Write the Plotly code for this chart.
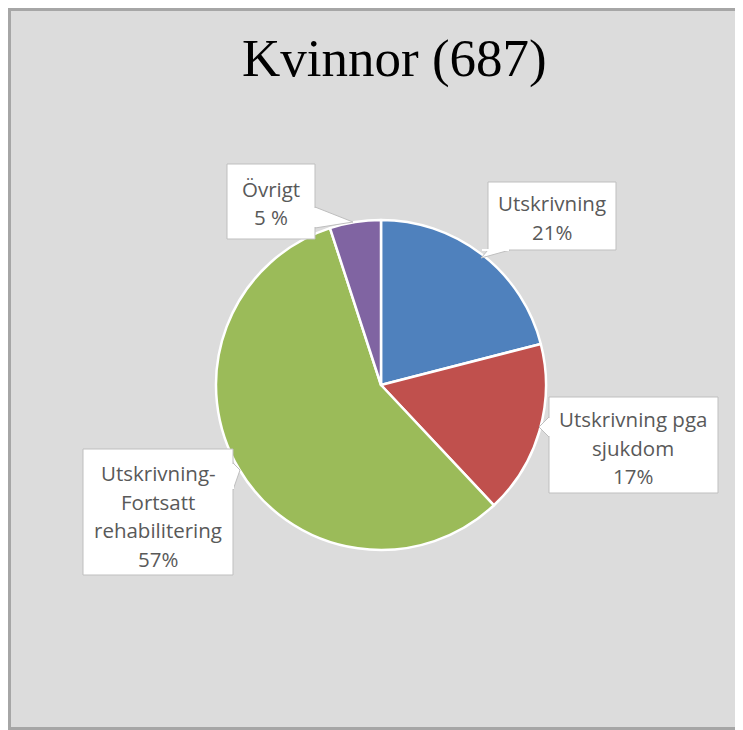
import plotly.graph_objects as go

# data
categories = ["Utskrivning", "Utskrivning pga sjukdom",
              "Utskrivning-Fortsatt rehabilitering", "Övrigt"]
values = [21, 17, 57, 5]
pct_labels = ["21%", "17%", "57%", "5 %"]
label_lines = [["Utskrivning"], ["Utskrivning pga", "sjukdom"],
               ["Utskrivning-", "Fortsatt", "rehabilitering"], ["Övrigt"]]
colors = ["#4f81bd", "#c0504d", "#9bbb59", "#8064a2"]
title_text = "Kvinnor (687)"

# the page puts the figure 8px in from the top-left corner
OFF = 8
W, H = 743, 730 - OFF


def px(x):
    return (x - OFF) / W


def py(y):
    return 1 - (y - OFF) / H


# pie placement (page pixels)
cx, cy, r = 381, 385, 165

fig = go.Figure(go.Pie(
    labels=categories, values=values, sort=False,
    direction="clockwise", rotation=0,
    marker=dict(colors=colors, line=dict(color="white", width=2.5)),
    textinfo="none", hoverinfo="label+percent",
    domain=dict(x=[px(cx - r), px(cx + r)], y=[py(cy + r), py(cy - r)]),
    showlegend=False,
))

shapes = [dict(type="rect", xref="paper", yref="paper",
               x0=px(OFF + 1), x1=px(800), y0=py(OFF + 1), y1=py(729),
               fillcolor="#dcdcdc", line=dict(color="#a6a6a6", width=4),
               layer="below")]

# callout boxes: (left, top, right, bottom), pointer polygon, text center x, first line y
callouts = [
    ((488, 182, 616, 250), [(488, 250), (481, 258), (510, 250)], 552, 203),
    ((549, 397, 718, 493), [(549, 417), (539, 427), (549, 437)], 633, 419),
    ((83, 449, 233, 575), [(233, 463), (240, 470), (233, 490)], 158, 473),
    ((227, 164, 315, 239), [(315, 207), (353, 222), (315, 228)], 271, 189),
]
line_gap = 28.5

annotations = []
for i, (box, ptr, tx, ty) in enumerate(callouts):
    l, t, rr, b = box
    path = "M {} {} ".format(px(ptr[0][0]), py(ptr[0][1]))
    path += " ".join("L {} {}".format(px(x), py(y)) for x, y in ptr[1:])
    shapes.append(dict(type="path", xref="paper", yref="paper", path=path + " Z",
                       fillcolor="white", line=dict(color="#bfbfbf", width=1),
                       layer="above"))
    shapes.append(dict(type="rect", xref="paper", yref="paper",
                       x0=px(l), x1=px(rr), y0=py(b), y1=py(t),
                       fillcolor="white", line=dict(color="#bfbfbf", width=1),
                       layer="above"))
    # cover the seam between pointer and box
    xs = [p[0] for p in ptr]
    ys = [p[1] for p in ptr]
    if ptr[0][0] == ptr[-1][0]:
        ex = ptr[0][0]
        path2 = "M {} {} L {} {}".format(px(ex), py(min(ys) + 1), px(ex), py(max(ys) - 1))
    else:
        ey = ptr[0][1]
        path2 = "M {} {} L {} {}".format(px(min(xs) + 1), py(ey), px(max(xs) - 1), py(ey))
    shapes.append(dict(type="path", xref="paper", yref="paper", path=path2,
                       line=dict(color="white", width=2), layer="above"))
    lines = label_lines[i] + [pct_labels[i]]
    for j, txt in enumerate(lines):
        annotations.append(dict(
            x=px(tx), y=py(ty + j * line_gap), xref="paper", yref="paper",
            text=txt, showarrow=False, xanchor="center", yanchor="middle",
            font=dict(family="Open Sans", size=20.5, color="#595959")))

annotations.append(dict(
    x=px(394), y=py(58), xref="paper", yref="paper", text=title_text,
    showarrow=False, xanchor="center", yanchor="middle",
    font=dict(family="Liberation Serif", size=53, color="black")))

fig.update_layout(
    width=W, height=H, margin=dict(l=0, r=0, t=0, b=0),
    paper_bgcolor="white", plot_bgcolor="white",
    shapes=shapes, annotations=annotations,
)

fig.write_html("out.html")
